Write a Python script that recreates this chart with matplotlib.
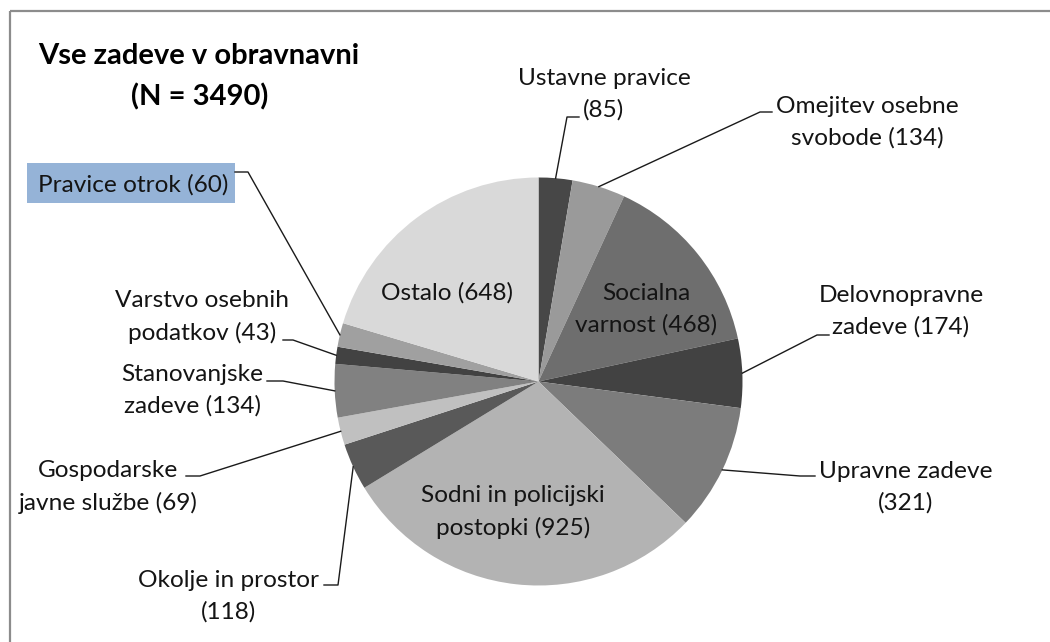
import numpy as np
import matplotlib
matplotlib.use("Agg")
import matplotlib.pyplot as plt
from matplotlib.patches import Rectangle

# ---- data ----
categories = ["Ustavne pravice", "Omejitev osebne\nsvobode", "Socialna\nvarnost",
              "Delovnopravne\nzadeve", "Upravne zadeve", "Sodni in policijski\npostopki",
              "Okolje in prostor", "Gospodarske\njavne službe", "Stanovanjske\nzadeve",
              "Varstvo osebnih\npodatkov", "Pravice otrok", "Ostalo"]
values = [85, 134, 468, 174, 321, 925, 118, 69, 134, 43, 60, 648]
title_lines = ["Vse zadeve v obravnavni", "(N = 3490)"]
colors = ["#474747", "#9a9a9a", "#6e6e6e", "#424242", "#7c7c7c", "#b3b3b3",
          "#595959", "#c0c0c0", "#818181", "#424242", "#a0a0a0", "#d9d9d9"]
# separator between name and count in label
seps = ["\n", " ", " ", " ", "\n", " ", "\n", " ", " ", " ", " ", " "]

W, H = 1050, 642
fig = plt.figure(figsize=(W / 100, H / 100), dpi=100)
ax = fig.add_axes([0, 0, 1, 1])

FONT = "Lato"
def Y(y):
    return H - y

cx, cy, R = 538.5, Y(381.5), 204
wedges, _ = ax.pie(values, colors=colors, startangle=90, counterclock=False,
                   center=(cx, cy), radius=R, frame=True,
                   wedgeprops=dict(linewidth=0))
ax.set_xlim(0, W)
ax.set_ylim(0, H)
ax.set_aspect("equal")
ax.axis("off")

# frame (only top and left visible)
ax.plot([10, W + 5], [Y(11), Y(11)], color="#8c8c8c", lw=1.6, solid_capstyle="butt")
ax.plot([10, 10], [Y(11), -5], color="#8c8c8c", lw=1.6, solid_capstyle="butt")

# labels: (text center px, elbow px, end px) ; None for inside labels
label_pos = [
    ((604, 94), (567, 117), (579, 117)),
    ((867, 122), (760, 112), (772, 112)),
    ((646, 309), None, None),
    ((901, 311), (817, 335), (829, 335)),
    ((906, 487), (800, 476), (815, 476)),
    ((513, 512), None, None),
    ((228, 596), (338, 585), (324, 585)),
    ((108, 487), (200, 476), (186, 476)),
    ((192, 390), (283, 381), (267, 381)),
    ((202, 317), (293, 340), (283, 340)),
    ((133, 185), (248, 172), (235, 172)),
    ((447, 293), None, None),
]

total = float(sum(values))
cum = 0.0
fs = 17.6
for i, (cat, v) in enumerate(zip(categories, values)):
    mid = (cum + v / 2) / total * 2 * np.pi
    cum += v
    full = f"{cat}{seps[i]}({v})"
    (tx, ty), elbow, end = label_pos[i]
    ax.text(tx, Y(ty), full, ha="center", va="center", fontsize=fs,
            family=FONT, color="#141414", linespacing=1.56)
    if cat == "Pravice otrok":
        ax.add_patch(Rectangle((27, Y(203)), 208, 40, facecolor="#95b3d7",
                               edgecolor="none", zorder=0.5))
    if elbow is not None:
        ex = cx + R * np.sin(mid)
        ey = cy + R * np.cos(mid)
        ax.plot([ex, elbow[0], end[0]], [ey, Y(elbow[1]), Y(end[1])],
                color="#1a1a1a", lw=1.0)

ax.text(199, Y(56), title_lines[0], ha="center", va="center", fontsize=21,
        family=FONT, weight="bold", color="black")
ax.text(200, Y(97), title_lines[1], ha="center", va="center", fontsize=21,
        family=FONT, weight="bold", color="black")

fig.savefig("out.png", dpi=100, facecolor="white")
